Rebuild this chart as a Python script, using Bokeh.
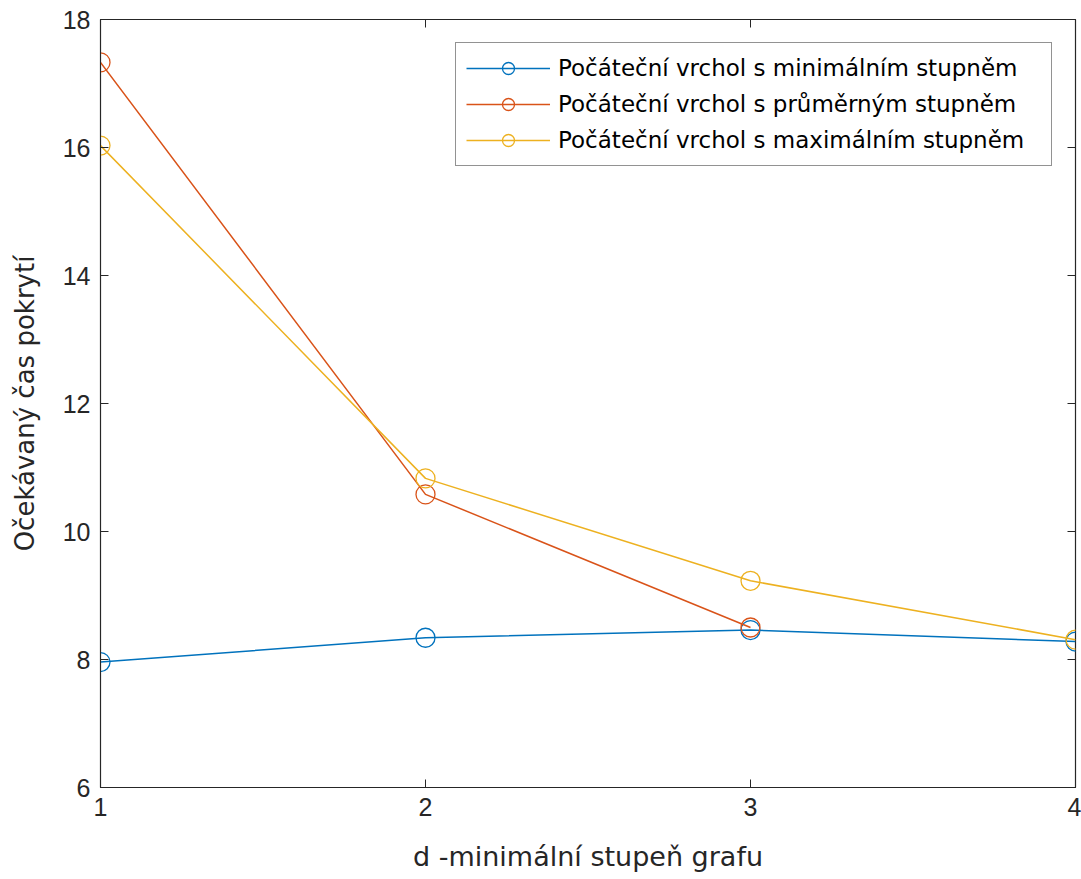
from bokeh.plotting import figure
from bokeh.models import LinearAxis, Range1d, FixedTicker
from bokeh.embed import file_html
from bokeh.resources import INLINE

x_min = [1, 2, 3, 4]
y_min = [7.96, 8.34, 8.46, 8.28]
x_avg = [1, 2, 3]
y_avg = [17.33, 10.58, 8.50]
x_max = [1, 2, 3, 4]
y_max = [16.03, 10.83, 9.23, 8.31]

labels = ["Počáteční vrchol s minimálním stupněm",
          "Počáteční vrchol s průměrným stupněm",
          "Počáteční vrchol s maximálním stupněm"]
colors = ["#0072BD", "#D95319", "#EDB120"]
x_ticks = [1, 2, 3, 4]
y_ticks = [6, 8, 10, 12, 14, 16, 18]

FONT = "Liberation Sans"
WIDE = "DejaVu Sans"
TXT = "#262626"

p = figure(width=1081, height=879, output_backend="svg", toolbar_location=None,
           x_range=Range1d(1, 4), y_range=Range1d(6, 18),
           min_border_left=100, min_border_right=6, min_border_top=19, min_border_bottom=92)
p.grid.visible = False
p.outline_line_color = TXT
p.outline_line_width = 1.2

for xs, ys, lab, col in [(x_min, y_min, labels[0], colors[0]),
                         (x_avg, y_avg, labels[1], colors[1]),
                         (x_max, y_max, labels[2], colors[2])]:
    p.line(xs, ys, line_color=col, line_width=1.5, legend_label=lab)
    p.scatter(xs, ys, marker="circle", size=19, fill_color=None, line_color=col,
              line_width=1.3, legend_label=lab)

for ax in [p.xaxis[0], p.yaxis[0]]:
    ax.axis_line_color = TXT
    ax.major_tick_in = 8
    ax.major_tick_out = 0
    ax.minor_tick_line_color = None
    ax.major_tick_line_color = TXT
    ax.major_label_text_font = FONT
    ax.major_label_text_font_size = "25px"
    ax.major_label_text_color = TXT
    ax.axis_label_text_font = WIDE
    ax.axis_label_text_font_style = "normal"
    ax.axis_label_text_color = TXT

p.xaxis[0].ticker = FixedTicker(ticks=x_ticks)
p.yaxis[0].ticker = FixedTicker(ticks=y_ticks)
p.xaxis[0].axis_label = "d -minimální stupeň grafu"
p.yaxis[0].axis_label = "Očekávaný čas pokrytí"
p.xaxis[0].axis_label_text_font_size = "27px"
p.yaxis[0].axis_label_text_font_size = "26px"
p.xaxis[0].major_label_standoff = 10
p.xaxis[0].axis_label_standoff = 22
p.yaxis[0].major_label_standoff = 10
p.yaxis[0].axis_label_standoff = 20

# mirror ticks on top and right (box style)
top_ax = LinearAxis(ticker=FixedTicker(ticks=x_ticks))
right_ax = LinearAxis(ticker=FixedTicker(ticks=y_ticks))
for ax in [top_ax, right_ax]:
    ax.axis_line_color = None
    ax.major_tick_in = 8
    ax.major_tick_out = 0
    ax.minor_tick_line_color = None
    ax.major_tick_line_color = TXT
    ax.major_label_text_font_size = "0px"
    ax.major_label_standoff = 0
    ax.major_label_text_alpha = 0
p.add_layout(top_ax, "above")
p.add_layout(right_ax, "right")

leg = p.legend[0]
leg.location = "top_right"
leg.margin = 23
leg.label_text_font = WIDE
leg.label_text_font_size = "23px"
leg.label_text_color = "#000000"
leg.border_line_color = TXT
leg.border_line_width = 1
leg.glyph_width = 84
leg.glyph_height = 30
leg.spacing = 6
leg.padding = 10
leg.label_standoff = 8
leg.label_width = 483
leg.background_fill_alpha = 1

open("out.html", "w").write(file_html(p, INLINE))
